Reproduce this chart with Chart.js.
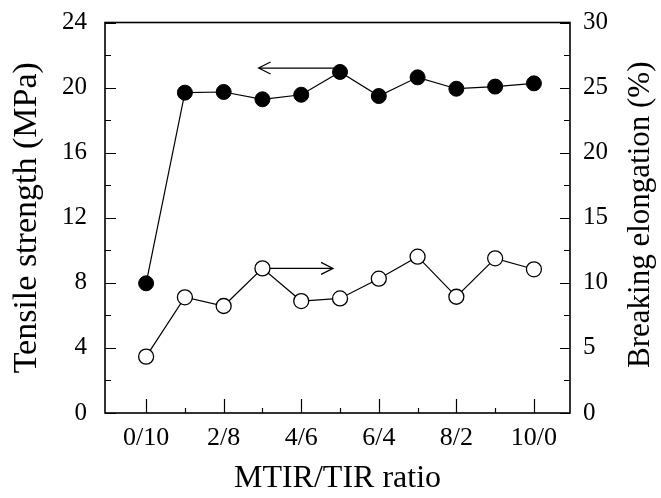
<!DOCTYPE html>
<html><head><meta charset="utf-8">
<script src="https://cdn.jsdelivr.net/npm/chart.js@4.4.0/dist/chart.umd.min.js"></script>
<style>html,body{margin:0;padding:0;background:#fff}</style>
</head><body>
<canvas id="c" width="661" height="498"></canvas>
<script>
// ---- data ----
const categories = ['0/10','1/9','2/8','3/7','4/6','5/5','6/4','7/3','8/2','9/1','10/0'];
const tensileStrength = [7.97,19.69,19.73,19.28,19.56,20.96,19.48,20.63,19.93,20.06,20.26];
const breakingElongation = [4.33,8.89,8.22,11.11,8.60,8.80,10.32,12.01,8.93,11.88,11.04];
const leftTicks = [0,4,8,12,16,20,24];
const rightTicks = [0,5,10,15,20,25,30];
const xTickIdx = [0,1,2,3,4,5,6,7,8,9,10];
// arrows in data units: [axis, yValue, fromIndex, toIndex]
const arrowAxes = ['y','y2'];
const arrowY = [21.2, 11.11];
const arrowFrom = [4.85, 3.0];
const arrowTo = [2.9, 4.82];

const FONT = "'Liberation Serif', 'Times New Roman', serif";

const framePlugin = {
  id: 'frame',
  beforeDatasetsDraw(chart) {
    const ctx = chart.ctx, xs = chart.scales.x;
    ctx.save();
    ctx.strokeStyle = '#000'; ctx.lineWidth = 1.2;
    for (let i = 0; i < arrowAxes.length; i++) {
      const ys = chart.scales[arrowAxes[i]];
      const y = ys.getPixelForValue(arrowY[i]);
      const x0 = xs.getPixelForValue(arrowFrom[i]);
      const x1 = xs.getPixelForValue(arrowTo[i]);
      const dir = x1 > x0 ? -1 : 1;
      ctx.beginPath();
      ctx.moveTo(x0, y); ctx.lineTo(x1, y);
      ctx.moveTo(x1 + dir * 12, y - 6); ctx.lineTo(x1, y); ctx.lineTo(x1 + dir * 12, y + 6);
      ctx.stroke();
    }
    ctx.restore();
  },
  afterDraw(chart) {
    const ctx = chart.ctx, a = chart.chartArea;
    const xs = chart.scales.x, yl = chart.scales.y, yr = chart.scales.y2;
    ctx.save();
    ctx.strokeStyle = '#000';
    ctx.lineWidth = 1.6;
    ctx.strokeRect(a.left, a.top, a.right - a.left, a.bottom - a.top);
    ctx.lineWidth = 1.2;
    ctx.beginPath();
    for (let v = 0; v <= 24; v += 2) {
      const y = Math.round(yl.getPixelForValue(v)) + 0.5;
      const len = (v % 4 === 0) ? 11 : 6;
      ctx.moveTo(a.left, y); ctx.lineTo(a.left + len, y);
    }
    for (let v = 0; v <= 30; v += 2.5) {
      const y = Math.round(yr.getPixelForValue(v)) + 0.5;
      const len = (v % 5 === 0) ? 10 : 6;
      ctx.moveTo(a.right, y); ctx.lineTo(a.right - len, y);
    }
    for (const i of xTickIdx) {
      const x = Math.round(xs.getPixelForValue(i)) + 0.5;
      const len = (i % 2 === 0) ? 14 : 5;
      ctx.moveTo(x, a.bottom); ctx.lineTo(x, a.bottom - len);
    }
    ctx.stroke();
    // right axis title (reads bottom-to-top)
    ctx.fillStyle = '#000';
    ctx.font = '31px ' + FONT;
    ctx.textAlign = 'center'; ctx.textBaseline = 'middle';
    ctx.translate(641, (a.top + a.bottom) / 2 - 3);
    ctx.rotate(-Math.PI / 2);
    ctx.fillText('Breaking elongation (%)', 0, 0);
    ctx.restore();
  }
};

new Chart(document.getElementById('c'), {
  type: 'line',
  data: {
    datasets: [
      {
        label: 'Tensile strength',
        data: tensileStrength.map((v, i) => ({x: i, y: v})),
        yAxisID: 'y',
        borderColor: '#000', borderWidth: 1.2,
        pointRadius: 7.5, pointBackgroundColor: '#000', pointBorderColor: '#000', pointBorderWidth: 1,
        tension: 0, fill: false
      },
      {
        label: 'Breaking elongation',
        data: breakingElongation.map((v, i) => ({x: i, y: v})),
        yAxisID: 'y2',
        borderColor: '#000', borderWidth: 1.2,
        pointRadius: 7.5, pointBackgroundColor: '#fff', pointBorderColor: '#000', pointBorderWidth: 1.3,
        tension: 0, fill: false
      }
    ]
  },
  options: {
    responsive: false,
    animation: false,
    devicePixelRatio: 1,
    layout: { padding: { top: 22.5, left: 0, right: 0, bottom: 0 } },
    plugins: { legend: { display: false }, tooltip: { enabled: false } },
    scales: {
      x: {
        type: 'linear', position: 'bottom',
        min: -1.06, max: 10.93,
        afterBuildTicks: s => { s.ticks = xTickIdx.map(v => ({value: v})); },
        afterFit: s => { s.height = 85; s.paddingLeft = 0; s.paddingRight = 0; },
        grid: { display: true, drawOnChartArea: false, drawTicks: false },
        border: { display: false },
        ticks: {
          autoSkip: false, maxRotation: 0, padding: 10,
          color: '#000', font: { family: FONT, size: 26 },
          callback: v => (v % 2 === 0 ? categories[v] : '')
        },
        title: { display: true, text: 'MTIR/TIR ratio', color: '#000', font: { family: FONT, size: 32 }, padding: { top: 0, bottom: 0 } }
      },
      y: {
        type: 'linear', position: 'left',
        min: 0, max: 24,
        afterBuildTicks: s => { s.ticks = leftTicks.map(v => ({value: v})); },
        afterFit: s => { s.width = 105; s.paddingTop = 0; s.paddingBottom = 0; },
        grid: { drawOnChartArea: false, drawTicks: false },
        border: { display: false },
        ticks: { padding: 18, color: '#000', font: { family: FONT, size: 25 } },
        title: { display: true, text: 'Tensile strength (MPa)', color: '#000', font: { family: FONT, size: 34 }, padding: { top: 7, bottom: 0 } }
      },
      y2: {
        type: 'linear', position: 'right',
        min: 0, max: 30,
        afterBuildTicks: s => { s.ticks = rightTicks.map(v => ({value: v})); },
        afterFit: s => { s.width = 91; s.paddingTop = 0; s.paddingBottom = 0; },
        grid: { drawOnChartArea: false, drawTicks: false },
        border: { display: false },
        ticks: { padding: 13, color: '#000', font: { family: FONT, size: 25 } },
        title: { display: false }
      }
    }
  },
  plugins: [framePlugin]
});
</script>
</body></html>
